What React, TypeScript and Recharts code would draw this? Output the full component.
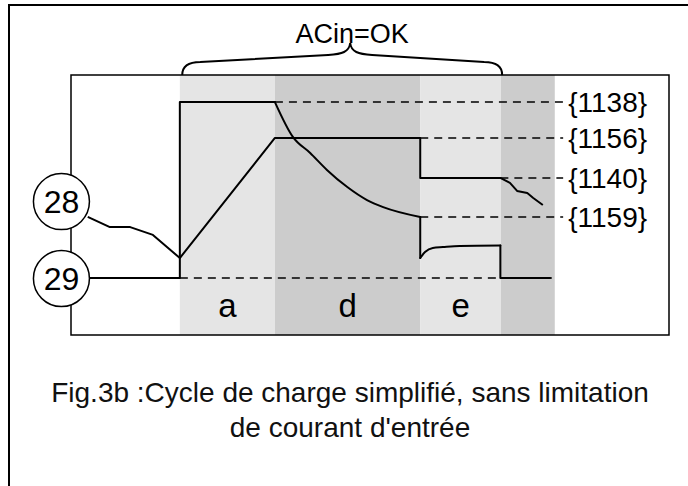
import React from 'react';
import {
	ComposedChart,
	Line,
	XAxis,
	YAxis,
	ReferenceArea,
	ReferenceLine,
	ReferenceDot,
} from 'recharts';

// x = time (% of plot width), y = level (% of plot height)
const phases = [
	{ name: 'a', start: 18.2, end: 34.1, fill: '#e5e5e5' },
	{ name: 'd', start: 34.1, end: 58.4, fill: '#cccccc' },
	{ name: 'e', start: 58.4, end: 71.9, fill: '#e5e5e5' },
	{ name: '', start: 71.9, end: 80.9, fill: '#cccccc' },
];

const acinWindow = { start: 18.6, end: 72.1, label: 'ACin=OK' };

const levels = [
	{ param: '{1138}', y: 89.6, from: 34.1, to: 82.3 },
	{ param: '{1156}', y: 75.8, from: 58.4, to: 82.3 },
	{ param: '{1140}', y: 60.4, from: 71.8, to: 82.3 },
	{ param: '{1159}', y: 45.4, from: 58.4, to: 82.3 },
	{ param: '', y: 21.9, from: 18.2, to: 80.9 },
];

const markers = [
	{ id: '28', x: -1.6, y: 51.3 },
	{ id: '29', x: -1.6, y: 21.7 },
];

// curve 29, split where it bends smoothly
const curve29Start = [
	{ x: 3.2, y: 21.9 },
	{ x: 18.2, y: 21.9 },
	{ x: 18.2, y: 89.6 },
	{ x: 34.1, y: 89.6 },
];
const curve29Decay = [
	{ x: 34.1, y: 89.6 },
	{ x: 37.1, y: 76.2 },
	{ x: 40.0, y: 70.0 },
	{ x: 42.8, y: 63.5 },
	{ x: 46.2, y: 56.9 },
	{ x: 49.5, y: 51.9 },
	{ x: 52.2, y: 49.2 },
	{ x: 58.4, y: 45.4 },
];
const curve29Drop = [
	{ x: 58.4, y: 45.4 },
	{ x: 58.4, y: 29.6 },
];
const curve29Rise = [
	{ x: 58.4, y: 29.6 },
	{ x: 59.2, y: 31.9 },
	{ x: 60.5, y: 33.5 },
	{ x: 62.2, y: 33.8 },
	{ x: 65.0, y: 34.2 },
	{ x: 71.8, y: 34.4 },
];
const curve29End = [
	{ x: 71.8, y: 34.4 },
	{ x: 71.8, y: 21.9 },
	{ x: 80.1, y: 21.9 },
];

const curve28 = [
	{ x: 2.8, y: 45.4 },
	{ x: 6.5, y: 41.5 },
	{ x: 9.9, y: 41.5 },
	{ x: 13.7, y: 38.5 },
	{ x: 18.2, y: 29.6 },
	{ x: 34.1, y: 75.8 },
	{ x: 58.4, y: 75.8 },
	{ x: 58.4, y: 60.4 },
	{ x: 71.8, y: 60.4 },
	{ x: 73.4, y: 58.5 },
	{ x: 74.6, y: 55.4 },
	{ x: 76.3, y: 54.6 },
	{ x: 77.3, y: 52.7 },
	{ x: 78.9, y: 50.0 },
];

const segments29 = [
	{ key: 's', data: curve29Start, type: 'linear' },
	{ key: 'dec', data: curve29Decay, type: 'monotone' },
	{ key: 'drop', data: curve29Drop, type: 'linear' },
	{ key: 'rise', data: curve29Rise, type: 'monotone' },
	{ key: 'end', data: curve29End, type: 'linear' },
];

const captionLines = [
	'Fig.3b :Cycle de charge simplifié, sans limitation',
	"de courant d'entrée",
];

const FONT = '"Liberation Sans", Arial, Helvetica, sans-serif';

const BraceLabel = (props: any) => {
	const { x, y, width } = props.viewBox;
	const x0 = x;
	const x1 = x + width;
	const tip = x + width * 0.525;
	const d = `M ${x0} ${y} C ${x0} ${y - 9} ${x0 + 6} ${y - 13} ${x0 + 18} ${y - 13}
		L ${tip - 22} ${y - 20} C ${tip - 8} ${y - 21} ${tip - 1} ${y - 23} ${tip} ${y - 32}
		C ${tip + 1} ${y - 23} ${tip + 8} ${y - 21} ${tip + 22} ${y - 20}
		L ${x1 - 18} ${y - 13} C ${x1 - 6} ${y - 13} ${x1} ${y - 9} ${x1} ${y}`;
	return (
		<g>
			<path d={d} fill='none' stroke='#000' strokeWidth={2} />
			<text x={tip + 2} y={y - 32} textAnchor='middle' fontSize={27} fill='#000'>
				{acinWindow.label}
			</text>
		</g>
	);
};

export default function App() {
	return (
		<div
			style={{
				position: 'absolute',
				left: 0,
				top: 0,
				width: 688,
				height: 486,
				overflow: 'hidden',
				background: '#fff',
				fontFamily: FONT,
			}}
		>
			<div
				style={{
					position: 'absolute',
					left: 8,
					top: 4,
					width: 720,
					height: 520,
					border: '2px solid #000',
				}}
			/>
			<div style={{ position: 'absolute', left: 0, top: 0 }}>
				<ComposedChart
					width={688}
					height={486}
					margin={{ top: 75, right: 19, bottom: 151, left: 71 }}
				>
					<XAxis type='number' dataKey='x' domain={[0, 100]} hide />
					<YAxis type='number' dataKey='y' domain={[0, 100]} hide />

					{phases.map(p => (
						<ReferenceArea
							key={'p' + p.start}
							x1={p.start}
							x2={p.end}
							y1={0}
							y2={100}
							fill={p.fill}
							fillOpacity={1}
							stroke='none'
							label={
								p.name
									? { value: p.name, position: 'insideBottom', offset: 18, fontSize: 33, fill: '#000' }
									: undefined
							}
						/>
					))}

					<ReferenceArea
						x1={acinWindow.start}
						x2={acinWindow.end}
						y1={0}
						y2={100}
						fill='none'
						stroke='none'
						label={(props: any) => <BraceLabel {...props} />}
					/>

					<ReferenceArea
						x1={0}
						x2={100}
						y1={0}
						y2={100}
						fill='none'
						stroke='#000'
						strokeWidth={1.5}
					/>

					{levels.map(l => (
						<ReferenceLine
							key={'l' + l.y}
							segment={[
								{ x: l.from, y: l.y },
								{ x: l.to, y: l.y },
							]}
							stroke='#000'
							strokeWidth={1.5}
							strokeDasharray='8 6'
							label={
								l.param
									? { value: l.param, position: 'right', offset: 5, fontSize: 28, fill: '#000' }
									: undefined
							}
						/>
					))}

					{segments29.map(s => (
						<Line
							key={s.key}
							data={s.data}
							dataKey='y'
							type={s.type as any}
							stroke='#000'
							strokeWidth={2}
							strokeLinecap='round'
							strokeLinejoin='round'
							dot={false}
							activeDot={false}
							isAnimationActive={false}
						/>
					))}

					<Line
						data={curve28}
						dataKey='y'
						type='linear'
						stroke='#000'
						strokeWidth={2}
						strokeLinejoin='round'
						dot={false}
						activeDot={false}
						isAnimationActive={false}
					/>

					{markers.map(m => (
						<ReferenceDot
							key={m.id}
							x={m.x}
							y={m.y}
							r={28}
							fill='#fff'
							stroke='#000'
							strokeWidth={1.5}
							ifOverflow='visible'
							label={{ value: m.id, position: 'center', fontSize: 32, fill: '#000' }}
						/>
					))}
				</ComposedChart>
			</div>
			<div
				style={{
					position: 'absolute',
					left: 0,
					top: 375,
					width: 700,
					textAlign: 'center',
					fontSize: 28,
					lineHeight: '35px',
					color: '#111',
				}}
			>
				{captionLines.map(t => (
					<div key={t}>{t}</div>
				))}
			</div>
		</div>
	);
}
